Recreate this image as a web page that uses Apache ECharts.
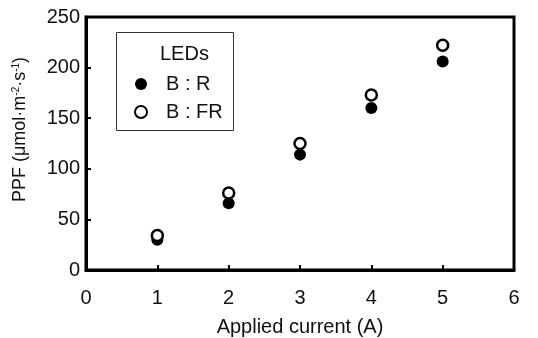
<!DOCTYPE html>
<html lang="en">
<head>
    <meta charset="UTF-8">
    <title>PPF vs applied current</title>
    <script src="https://cdn.jsdelivr.net/npm/echarts@6/dist/echarts.min.js"></script>
    <style>
        body { margin: 0; background: #fff; }
        #chart { width: 538px; height: 338px; }
    </style>
</head>
<body>
    <div id="chart"></div>
    <script>
        // values
        const currents = [1, 2, 3, 4, 5];
        const ppfBR = [30, 66, 114, 160, 206];
        const ppfBFR = [34, 76, 125, 173, 222];
        const seriesNames = ['B : R', 'B : FR'];

        const font = 'Liberation Sans, Arial, sans-serif';
        const chart = echarts.init(document.getElementById('chart'));

        chart.setOption({
            animation: false,
            grid: {
                left: 86, right: 24, top: 17, bottom: 68,
                outerBoundsMode: 'none',
                show: true, borderColor: '#000', borderWidth: 3
            },
            xAxis: {
                type: 'value', min: 0, max: 6, interval: 1,
                name: 'Applied current (A)', nameLocation: 'middle', nameGap: 47,
                nameTextStyle: { fontFamily: font, fontSize: 20, color: '#111' },
                axisLine: { lineStyle: { color: '#000', width: 3 } },
                axisTick: { inside: true, length: 5, lineStyle: { color: '#000', width: 2 } },
                axisLabel: { fontFamily: font, fontSize: 20, color: '#111', margin: 18 },
                splitLine: { show: false }
            },
            yAxis: {
                type: 'value', min: 0, max: 250, interval: 50,
                name: '{a|PPF (\u03bcmol\u00b7m}{s|-2}{a|\u00b7s}{s|-1}{a|)}',
                nameLocation: 'middle', nameGap: 56,
                nameTextStyle: {
                    padding: [0, 0, 0, 28],
                    rich: {
                        a: { fontFamily: font, fontSize: 18, color: '#111' },
                        s: { fontFamily: font, fontSize: 10, color: '#111', verticalAlign: 'top', padding: [0, 0, 9, 0] }
                    }
                },
                axisLine: { lineStyle: { color: '#000', width: 3 } },
                axisTick: { inside: true, length: 5, lineStyle: { color: '#000', width: 2 } },
                axisLabel: { fontFamily: font, fontSize: 20, color: '#111', margin: 6 },
                splitLine: { show: false }
            },
            legend: {
                orient: 'vertical', left: 129, top: 69,
                itemWidth: 12, itemHeight: 12, itemGap: 8,
                data: seriesNames,
                textStyle: { fontFamily: font, fontSize: 20, color: '#111', padding: [0, 0, 0, 14] }
            },
            graphic: [
                {
                    type: 'rect', left: 116, top: 32, z: 0,
                    shape: { width: 117, height: 98 },
                    style: { fill: '#fff', stroke: '#333', lineWidth: 1 }
                },
                {
                    type: 'text', left: 160, top: 44, z: 10,
                    style: { text: 'LEDs', font: '20px ' + font, fill: '#111' }
                }
            ],
            series: [
                {
                    name: seriesNames[0], type: 'scatter', symbol: 'circle', symbolSize: 12,
                    itemStyle: { color: '#000', opacity: 1 },
                    data: currents.map((x, i) => [x, ppfBR[i]])
                },
                {
                    name: seriesNames[1], type: 'scatter', symbol: 'circle', symbolSize: 11,
                    itemStyle: { color: '#fff', borderColor: '#000', borderWidth: 2.5, opacity: 1 },
                    data: currents.map((x, i) => [x, ppfBFR[i]])
                }
            ]
        });
    </script>
</body>
</html>
